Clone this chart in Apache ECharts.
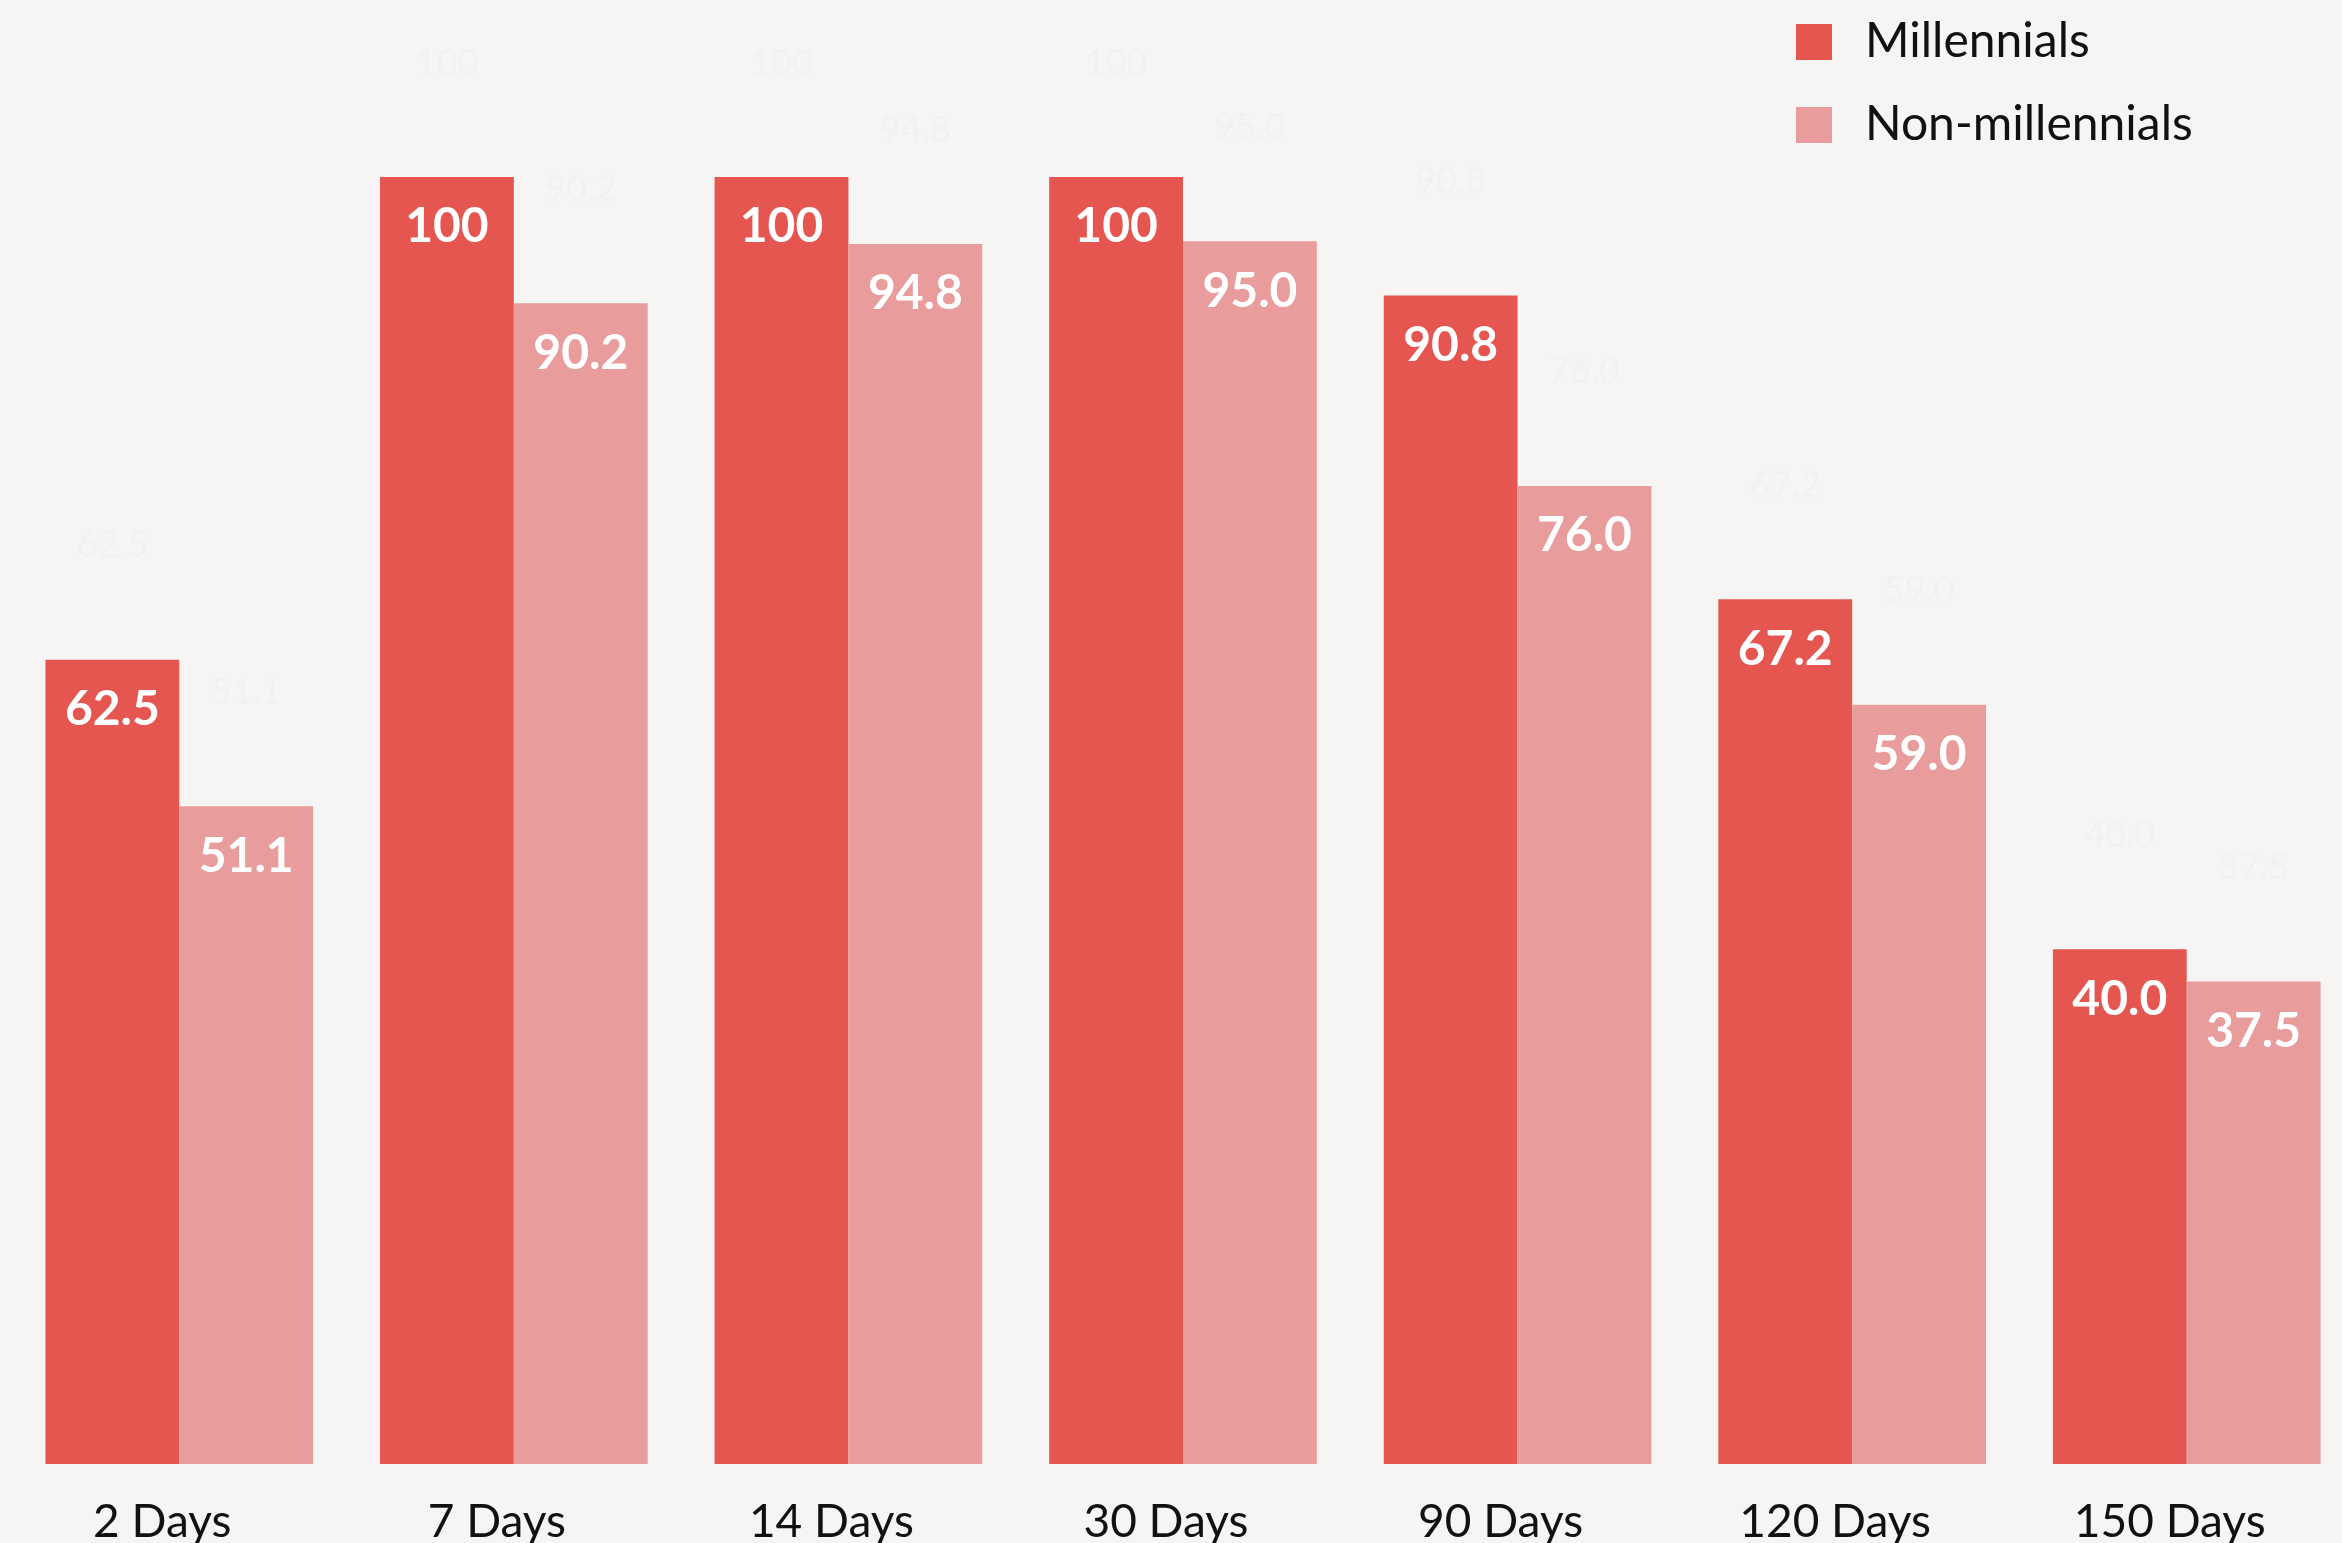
<!DOCTYPE html>
<html>
<head>
<meta charset="utf-8">
<script src="https://cdn.jsdelivr.net/npm/echarts@6/dist/echarts.min.js"></script>
<style>
  html, body { margin: 0; padding: 0; background: #f6f5f3; }
  #main { width: 2342px; height: 1543px; }
</style>
</head>
<body>
<div id="main"></div>
<script>
  let days = ['2 Days', '7 Days', '14 Days', '30 Days', '90 Days', '120 Days', '150 Days'];
  let millennials = [62.5, 100, 100, 100, 90.8, 67.2, 40.0];
  let nonMillennials = [51.1, 90.2, 94.8, 95.0, 76.0, 59.0, 37.5];

  let fmt = function (p) {
    return p.value === 100 ? '100' : p.value.toFixed(1);
  };
  let font = 'Lato, "Noto Sans", sans-serif';

  let innerLabel = {
    show: true,
    position: 'insideTop',
    distance: 26,
    color: '#fff',
    fontSize: 48,
    fontWeight: 'bold',
    fontFamily: font,
    formatter: fmt
  };
  // faint copies of the values floating above the bars
  let ghostLabel = {
    show: true,
    position: 'top',
    distance: 96,
    color: '#eff1f3',
    fontSize: 36,
    fontFamily: font,
    formatter: fmt
  };

  let myChart = echarts.init(document.getElementById('main'));
  let option = {
    backgroundColor: '#f6f5f3',
    animation: false,
    legend: {
      data: ['Millennials', 'Non-millennials'],
      orient: 'vertical',
      left: 1791,
      top: 13,
      itemWidth: 36,
      itemHeight: 36,
      itemGap: 35,
      icon: 'rect',
      textStyle: {
        fontSize: 48,
        lineHeight: 48,
        color: '#111',
        fontFamily: font,
        padding: [0, 0, 0, 28]
      }
    },
    grid: { left: 12, right: -12, top: 177, bottom: 79, outerBoundsMode: 'none' },
    xAxis: [{
      type: 'category',
      data: days,
      axisLine: { show: false },
      axisTick: { show: false },
      axisLabel: {
        margin: 35,
        fontSize: 46,
        color: '#111',
        fontFamily: font,
        padding: [0, 34, 0, 0]
      }
    }, {
      type: 'category',
      data: days,
      show: false
    }],
    yAxis: { type: 'value', min: 0, max: 100, show: false },
    series: [{
      name: 'Millennials',
      type: 'bar',
      data: millennials,
      barGap: 0,
      barCategoryGap: '20%',
      itemStyle: { color: '#e55651' },
      label: innerLabel
    }, {
      name: 'Non-millennials',
      type: 'bar',
      data: nonMillennials,
      barGap: 0,
      barCategoryGap: '20%',
      itemStyle: { color: '#e89c9b' },
      label: innerLabel
    }, {
      name: 'ghostA',
      type: 'bar',
      xAxisIndex: 1,
      data: millennials,
      barGap: 0,
      barCategoryGap: '20%',
      itemStyle: { color: 'rgba(0,0,0,0)' },
      label: ghostLabel,
      silent: true,
      z: 1
    }, {
      name: 'ghostB',
      type: 'bar',
      xAxisIndex: 1,
      data: nonMillennials,
      barGap: 0,
      barCategoryGap: '20%',
      itemStyle: { color: 'rgba(0,0,0,0)' },
      label: ghostLabel,
      silent: true,
      z: 1
    }]
  };
  myChart.setOption(option);
</script>
</body>
</html>
